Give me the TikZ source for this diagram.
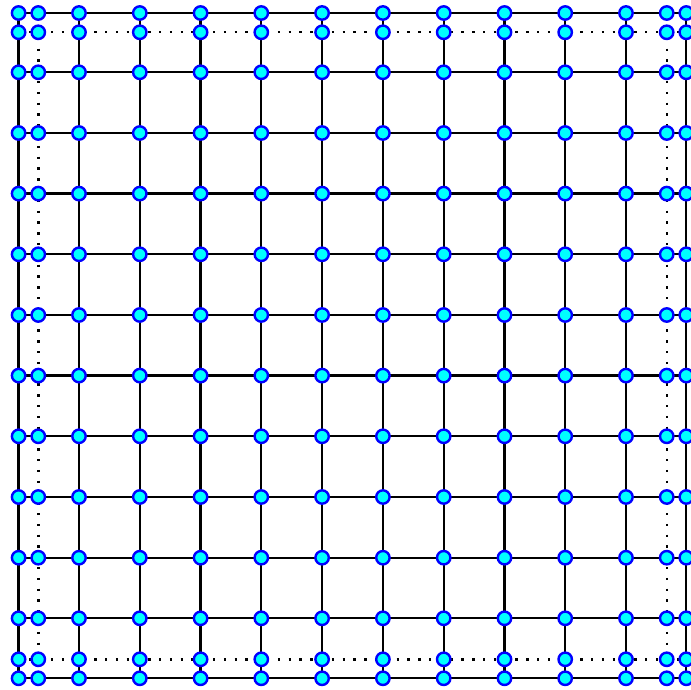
\documentclass[tikz,border=0pt]{standalone}
\usetikzlibrary{backgrounds}
\definecolor{nodefill}{RGB}{0,255,255}
\definecolor{nodeline}{RGB}{0,0,255}
\begin{document}
\begin{tikzpicture}[x=1pt,y=-1pt,
  vtx/.style={circle,fill=nodefill,draw=nodeline,line width=2.4pt,minimum size=13.4pt,inner sep=0pt},
  edge/.style={line width=2.3pt,black},
  hdots/.style={line width=2.4pt,black,dash pattern=on 2.4pt off 8.4pt,dash phase=0pt},
  vdots/.style={line width=2.4pt,black,dash pattern=on 2.4pt off 8.4pt,dash phase=7.6pt}]
\useasboundingbox (0,0) rectangle (691,690);
\foreach \x [count=\i from 0] in {18.6,38.3,79,139.8,200.6,261.3,322.1,382.9,443.7,504.5,565.2,626,666.7,686.3} {
  \foreach \y [count=\j from 0] in {13,32.3,72.3,133,193.6,254.3,315,375.6,436.3,497,557.7,618.3,659.3,678.3} {
    \node[vtx] (n-\i-\j) at (\x,\y) {};
  }
}
\begin{pgfonlayer}{background}
  % solid columns and rows
  \foreach \k in {0,2,3,4,5,6,7,8,9,10,11,13} {
    \draw[edge] (n-\k-0.center) -- (n-\k-13.center);
    \draw[edge] (n-0-\k.center) -- (n-13-\k.center);
  }
  % dotted columns and rows
  \foreach \k in {1,12} {
    \draw[vdots] (n-\k-0.center) -- (n-\k-13.center);
    \draw[hdots] (n-0-\k.center) -- (n-13-\k.center);
  }
\end{pgfonlayer}
\end{tikzpicture}
\end{document}
